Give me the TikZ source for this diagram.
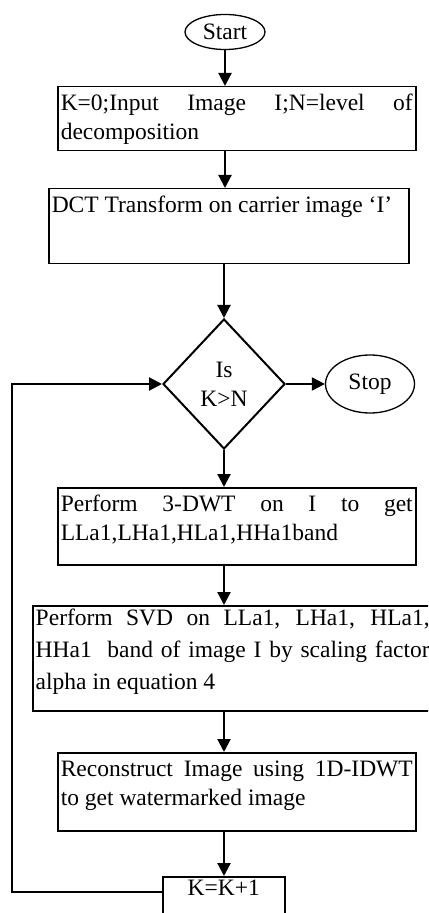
\documentclass[tikz,border=0pt]{standalone}
\usepackage{fontspec}
\setmainfont{Liberation Serif}
\usepackage{tikz}
\usetikzlibrary{arrows.meta,shapes.geometric}
\tikzset{
    procbox/.style = {draw, line width=0.75pt, anchor=north west, inner sep=1.5pt},
    termnode/.style = {draw, ellipse, line width=0.65pt, inner sep=0pt},
    decide/.style = {draw, diamond, line width=1pt, inner sep=0pt, align=center,
        minimum width=61pt, minimum height=65pt},
    flow/.style = {line width=1.1pt, -{Triangle[length=6.5pt,width=6.5pt]}}
}
\newcommand{\boxpar}[3]{\parbox[t][#1][t]{#2}{\tolerance=10000\hbadness=10000\strut #3}}

\begin{document}
\begin{tikzpicture}[x=0.5pt, y=-0.5pt, line join=miter, font=\fontsize{11.75}{14.5}\selectfont]
\useasboundingbox (0,0) rectangle (428,913);
\clip (0,0) rectangle (428,913);
\node[termnode, minimum width=40pt, minimum height=17.5pt] (start) at (225,32) {Start};
\node[procbox] (init) at (57,86) {\boxpar{29pt}{176pt}{K=0;Input Image I;N=level of\linebreak decomposition}};
\node[procbox] (dct) at (48,188) {\boxpar{34.5pt}{177pt}{DCT Transform on carrier image ‘I’}};
\node[decide] (isk) at (224,384) {Is\\K>N};
\node[termnode, minimum width=44.5pt, minimum height=29pt] (stop) at (370,384) {Stop};
\node[procbox] (dwt) at (57,487) {\boxpar{35.5pt}{176pt}{Perform 3-DWT on I to get\linebreak LLa1,LHa1,HLa1,HHa1band}};
\node[procbox] (svd) at (32,605) {\parbox[t][49.5pt][t]{197pt}{\fontsize{11.75}{16}\selectfont\tolerance=10000\hbadness=10000 Perform SVD on LLa1, LHa1, HLa1,\linebreak HHa1\ \ band of image I by scaling factor\linebreak alpha in equation 4}};
\node[procbox] (idwt) at (57,752) {\boxpar{36pt}{176pt}{Reconstruct Image using 1D-IDWT\linebreak to get watermarked image}};
\node[procbox] (incr) at (162,876) {\parbox[t][26.5pt][t]{58pt}{\centering K=K+1}};
\coordinate (back) at (12,892);
\draw[flow] (start) -- (start |- init.north);
\draw[flow] (init.south -| start) -- (dct.north -| start);
\draw[flow] (dct.south -| isk) -- (isk.north);
\draw[flow] (isk.east) -- (stop.west);
\draw[flow] (isk.south) -- (isk.south |- dwt.north);
\draw[flow] (dwt.south -| isk) -- (svd.north -| isk);
\draw[flow] (svd.south -| isk) -- (idwt.north -| isk);
\draw[flow] (idwt.south -| isk) -- (incr.north -| isk);
\draw[flow] ([yshift=-8pt]incr.north west) -- (back) |- (isk.west);
\end{tikzpicture}
\end{document}
